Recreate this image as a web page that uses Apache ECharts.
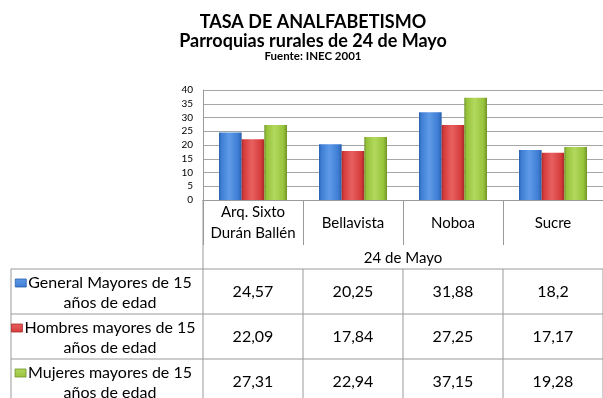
<!DOCTYPE html>
<html>
<head>
<meta charset="utf-8">
<script src="https://cdn.jsdelivr.net/npm/echarts@6/dist/echarts.min.js"></script>
<style>
  html, body { margin: 0; padding: 0; background: #ffffff; }
  #chart { width: 603px; height: 398px; }
</style>
</head>
<body>
<div id="chart"></div>
<script>
// Illiteracy rate by rural parish, 24 de Mayo canton (INEC 2001)
const categories = ['Arq. Sixto\nDurán Ballén', 'Bellavista', 'Noboa', 'Sucre'];
const groupLabel = '24 de Mayo';
const seriesNames = [
  ['General Mayores de 15', 'años de edad'],
  ['Hombres mayores de 15', 'años de edad'],
  ['Mujeres mayores de 15', 'años de edad']
];
const generalValues = [24.57, 20.25, 31.88, 18.2];
const hombresValues = [22.09, 17.84, 27.25, 17.17];
const mujeresValues = [27.31, 22.94, 37.15, 19.28];
const yMin = 0, yMax = 40, yStep = 5;

const FONT = 'Lato';
const seriesValues = [generalValues, hombresValues, mujeresValues];
const palette = [
  { dark: '#2a5ea8', main: '#3d7dd5', light: '#5e9ae6' },
  { dark: '#a82828', main: '#d63c3c', light: '#e86060' },
  { dark: '#6f9328', main: '#97c33b', light: '#b2d85e' }
];
const gridLine = '#a6a6a6';
const tableLine = '#9a9a9a';

function barFill(p) {
  return new echarts.graphic.LinearGradient(0, 0, 1, 0, [
    { offset: 0, color: p.dark },
    { offset: 0.1, color: p.main },
    { offset: 0.45, color: p.light },
    { offset: 0.85, color: p.main },
    { offset: 1, color: p.dark }
  ]);
}

function keyFill(p) {
  return new echarts.graphic.LinearGradient(0, 0, 0, 1, [
    { offset: 0, color: p.light },
    { offset: 1, color: p.main }
  ]);
}

const measureCtx = document.createElement('canvas').getContext('2d');
function textWidth(str, font) {
  measureCtx.font = font;
  return measureCtx.measureText(str).width;
}

const chart = echarts.init(document.getElementById('chart'), null, { renderer: 'canvas' });

chart.setOption({
  backgroundColor: '#ffffff',
  animation: false,
  title: {
    text: 'TASA DE ANALFABETISMO\nParroquias rurales de 24 de Mayo',
    subtext: 'Fuente: INEC 2001',
    left: 308,
    top: 7,
    textAlign: 'center',
    itemGap: -1,
    textStyle: { fontFamily: FONT, fontWeight: 'bold', fontSize: 18, lineHeight: 19.5, color: '#000' },
    subtextStyle: { fontFamily: FONT, fontWeight: 'bold', fontSize: 11.5, lineHeight: 12, color: '#000' }
  },
  grid: { left: 203, top: 90, width: 411, height: 110, containLabel: false },
  xAxis: {
    type: 'category',
    data: categories,
    boundaryGap: true,
    axisLine: { show: true, lineStyle: { color: tableLine, width: 1 } },
    axisTick: { show: true, length: 45, interval: 0, lineStyle: { color: tableLine } },
    axisLabel: {
      interval: 0, margin: 23, verticalAlign: 'middle', align: 'center',
      fontFamily: FONT, fontSize: 15, lineHeight: 21, color: '#000'
    }
  },
  yAxis: {
    type: 'value',
    min: yMin, max: yMax, interval: yStep,
    axisLine: { show: true, lineStyle: { color: tableLine } },
    axisTick: { show: false },
    axisLabel: { fontFamily: FONT, fontSize: 10, color: '#000', margin: 10 },
    splitLine: { show: true, lineStyle: { color: gridLine, width: 1 } }
  },
  series: seriesValues.map((vals, i) => ({
    type: 'bar',
    name: seriesNames[i].join(' '),
    data: vals,
    barGap: '0%',
    barCategoryGap: '32%',
    itemStyle: { color: barFill(palette[i]) }
  }))
});

// Data table under the plot, aligned with the category axis
function buildTable() {
  const centers = categories.map((_, i) => chart.convertToPixel({ xAxisIndex: 0 }, i));
  const band = centers[1] - centers[0];
  const axisY = chart.convertToPixel({ yAxisIndex: 0 }, yMin);
  const left0 = centers[0] - band / 2;
  const right0 = centers[centers.length - 1] + band / 2;
  const tableLeft = 11;
  const rowTop = axisY + 69;
  const rowH = 45;
  const labelFont = '16px ' + FONT;
  const labelX = (tableLeft + left0) / 2 + 3;
  const els = [];
  const line = (x1, y1, x2, y2) => ({
    type: 'line', silent: true,
    shape: { x1, y1, x2, y2 },
    style: { stroke: tableLine, lineWidth: 1 }
  });
  const text = (x, y, str, font) => ({
    type: 'text', silent: true,
    style: { x, y, text: str, align: 'center', verticalAlign: 'middle', font, fill: '#000' }
  });

  // axis line continuing down through the table
  els.push(line(left0, axisY, left0, 398));
  // group caption row
  els.push(text((left0 + right0) / 2, axisY + 58, groupLabel, '15px ' + FONT));

  seriesValues.forEach((vals, r) => {
    const top = rowTop + r * rowH;
    const mid = top + rowH / 2;
    els.push(line(tableLeft, top, right0, top));
    els.push(line(tableLeft, top, tableLeft, top + rowH));
    centers.forEach((cx, c) => {
      els.push(line(cx + band / 2, top, cx + band / 2, top + rowH));
      els.push(text(cx, mid, String(vals[c]).replace('.', ','), '16px ' + FONT));
    });
    // series name with its colour key
    const [l1, l2] = seriesNames[r];
    els.push(text(labelX, top + 14, l1, labelFont));
    els.push(text(labelX, top + 34, l2, labelFont));
    const w1 = textWidth(l1, labelFont);
    const p = palette[r];
    els.push({
      type: 'rect', silent: true,
      shape: { x: labelX - w1 / 2 - 13, y: top + 10, width: 11, height: 8 },
      style: { fill: keyFill(p), stroke: p.dark, lineWidth: 0.8 }
    });
  });
  chart.setOption({ graphic: els });
}
buildTable();
</script>
</body>
</html>
